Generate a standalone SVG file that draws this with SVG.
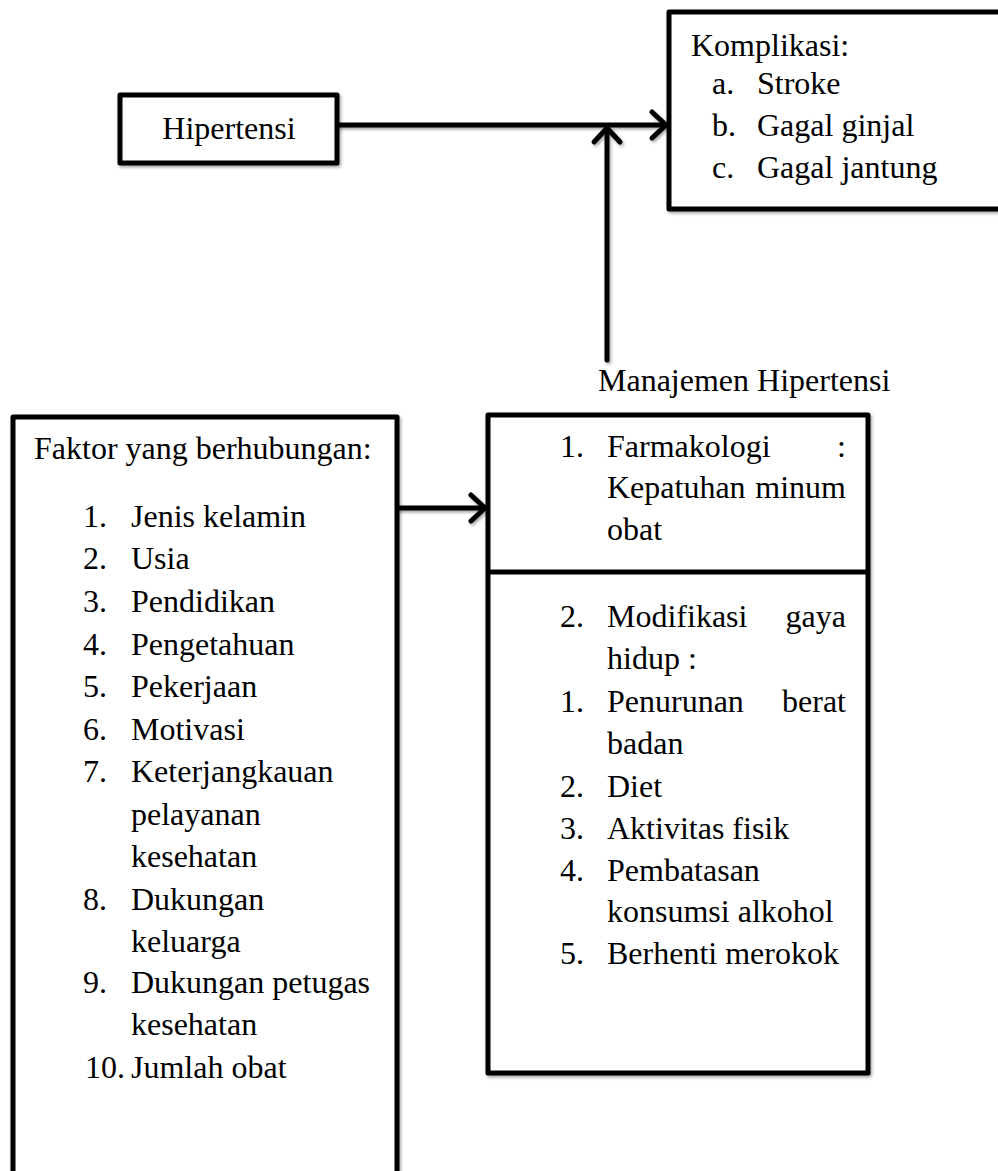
<svg xmlns="http://www.w3.org/2000/svg" width="998" height="1171" viewBox="0 0 998 1171">
<defs>
<filter id="sh" x="-10%" y="-10%" width="120%" height="120%">
<feDropShadow dx="1.5" dy="2" stdDeviation="1.5" flood-color="#000" flood-opacity="0.35"/>
</filter>
</defs>
<style>
.box{fill:#fff;stroke:#000;stroke-width:5;stroke-linejoin:round}
.ln{fill:none;stroke:#000;stroke-width:5;stroke-linecap:round;stroke-linejoin:round}
text{font-family:"Liberation Serif","Times New Roman",serif;font-size:32px;fill:#000}
.e{text-anchor:end}
</style>
<rect width="998" height="1171" fill="#fff"/>
<g id="connectors" filter="url(#sh)">
<path class="ln" d="M337 125 H664"/>
<path class="ln" d="M652 112 L666 125 L652 138"/>
<path class="ln" d="M607 360 V130"/>
<path class="ln" d="M594 142 L607 128 L620 142"/>
<path class="ln" d="M397 508 H483"/>
<path class="ln" d="M471 495 L485 508 L471 521"/>
</g>
<g id="hipertensi">
<rect class="box" x="120" y="95" width="217" height="68" filter="url(#sh)"/>
<text x="229" y="139" text-anchor="middle">Hipertensi</text>
</g>
<g id="komplikasi">
<rect class="box" x="669" y="12" width="340" height="197" filter="url(#sh)"/>
<text x="691" y="56">Komplikasi:</text>
<text x="712" y="94">a.</text><text x="757" y="94">Stroke</text>
<text x="712" y="136">b.</text><text x="757" y="136">Gagal ginjal</text>
<text x="712" y="178">c.</text><text x="757" y="178">Gagal jantung</text>
</g>
<g id="manajemen-label">
<text x="598" y="391">Manajemen Hipertensi</text>
</g>
<g id="faktor">
<path class="box" d="M13 1180 V417 H397 V1180" filter="url(#sh)"/>
<text x="34" y="459">Faktor yang berhubungan:</text>
<text x="83" y="527">1.</text><text x="131" y="527">Jenis kelamin</text>
<text x="83" y="569">2.</text><text x="131" y="569">Usia</text>
<text x="83" y="612">3.</text><text x="131" y="612">Pendidikan</text>
<text x="83" y="655">4.</text><text x="131" y="655">Pengetahuan</text>
<text x="83" y="697">5.</text><text x="131" y="697">Pekerjaan</text>
<text x="83" y="740">6.</text><text x="131" y="740">Motivasi</text>
<text x="83" y="782">7.</text><text x="131" y="782">Keterjangkauan</text>
<text x="131" y="825">pelayanan</text>
<text x="131" y="867">kesehatan</text>
<text x="83" y="910">8.</text><text x="131" y="910">Dukungan</text>
<text x="131" y="952">keluarga</text>
<text x="83" y="993">9.</text><text x="131" y="993">Dukungan petugas</text>
<text x="131" y="1035">kesehatan</text>
<text x="85" y="1078">10.</text><text x="131" y="1078">Jumlah obat</text>
</g>
<g id="manajemen">
<g filter="url(#sh)">
<rect class="box" x="488" y="415" width="380" height="658"/>
<path class="ln" d="M490 572 H866"/>
</g>
<text x="560" y="457">1.</text><text x="607" y="457">Farmakologi</text><text class="e" x="846" y="457">:</text>
<text x="607" y="498">Kepatuhan</text><text class="e" x="846" y="498">minum</text>
<text x="607" y="540">obat</text>
<text x="560" y="627">2.</text><text x="607" y="627">Modifikasi</text><text class="e" x="846" y="627">gaya</text>
<text x="607" y="669">hidup :</text>
<text x="560" y="712">1.</text><text x="607" y="712">Penurunan</text><text class="e" x="846" y="712">berat</text>
<text x="607" y="754">badan</text>
<text x="560" y="797">2.</text><text x="607" y="797">Diet</text>
<text x="560" y="839">3.</text><text x="607" y="839">Aktivitas fisik</text>
<text x="560" y="881">4.</text><text x="607" y="881">Pembatasan</text>
<text x="607" y="922">konsumsi alkohol</text>
<text x="560" y="964">5.</text><text x="607" y="964">Berhenti merokok</text>
</g>
</svg>
